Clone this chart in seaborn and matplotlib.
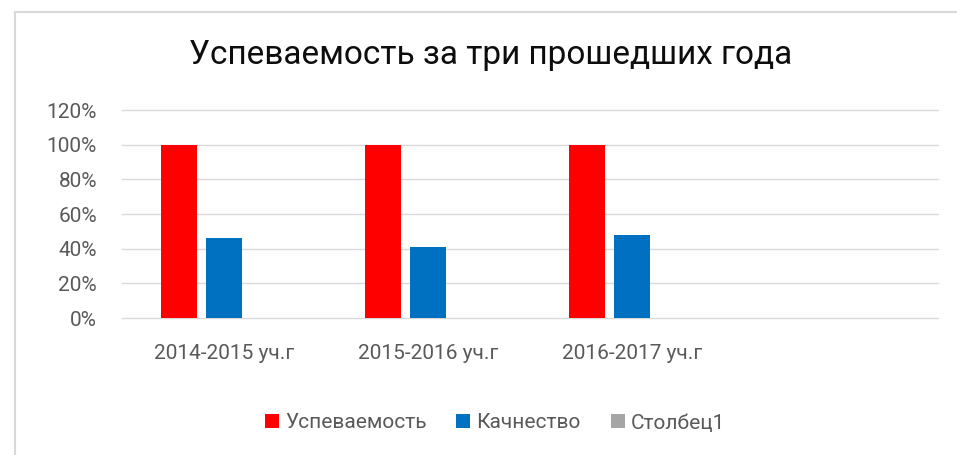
import pandas as pd
import matplotlib
matplotlib.use("Agg")
from matplotlib import pyplot as plt
from matplotlib.patches import Patch
from matplotlib.lines import Line2D
from matplotlib.ticker import PercentFormatter
import seaborn as sns

# chart data
years = ["2014-2015 уч.г", "2015-2016 уч.г", "2016-2017 уч.г"]
slots = years + [" "]  # fourth empty category on the axis
series = ["Успеваемость", "Качнество", "Столбец1"]
uspev = [1.00, 1.00, 1.00]
kach = [0.46, 0.41, 0.48]
stolb = [0.0, 0.0, 0.0]
colors = ["#ff0000", "#0070c0", "#a5a5a5"]
yticks = [0, 0.2, 0.4, 0.6, 0.8, 1.0, 1.2]

df = pd.DataFrame({
    "year": years * 3,
    "series": [s for s in series for _ in years],
    "value": uspev + kach + stolb,
})

sns.set_style("white")
plt.rcParams['font.family'] = ['Roboto', 'DejaVu Sans']

W, H = 957, 455
fig = plt.figure(figsize=(W / 100, H / 100), dpi=100)
ax = fig.add_axes([122 / W, 1 - 318 / H, (938 - 122) / W, (318 - 110) / H])

sns.barplot(data=df, x="year", y="value", hue="series", order=slots,
            hue_order=series, palette=colors, width=0.662, gap=0.22,
            saturation=1, linewidth=0, legend=False, ax=ax)

ax.set_xlim(-0.5, len(slots) - 0.5)
ax.set_ylim(0, 1.2)
ax.set_yticks(yticks)
ax.yaxis.set_major_formatter(PercentFormatter(1.0, decimals=0))
ax.grid(axis="y", color="#d9d9d9", lw=1.0)
ax.set_axisbelow(True)
for gl in ax.get_ygridlines():
    gl.set_clip_on(False)
for s in ax.spines.values():
    s.set_visible(False)
ax.set_xlabel("")
ax.set_ylabel("")
ax.tick_params(axis="y", length=0, pad=18, labelsize=15, labelcolor="#595959")
ax.tick_params(axis="x", length=0, pad=19, labelsize=15, labelcolor="#595959")

fig.text(491 / W, 1 - 55 / H, "Успеваемость за три прошедших года",
         ha="center", va="center", fontsize=24, color="#0d0d0d")

handles = [Patch(facecolor=c, edgecolor="none") for c in colors]
fig.legend(handles, series, loc="center", bbox_to_anchor=(495 / W, 1 - 423 / H),
           ncol=3, frameon=False, fontsize=15, labelcolor="#595959",
           handlelength=0.67, handleheight=0.67, handletextpad=0.29,
           columnspacing=1.44, borderpad=0)

# chart frame (left and top edges visible)
fig.add_artist(Line2D([15 / W, 15 / W], [0, 1 - 12 / H], color="#d9d9d9", lw=1.5,
                      transform=fig.transFigure))
fig.add_artist(Line2D([15 / W, 1], [1 - 12 / H, 1 - 12 / H], color="#d9d9d9", lw=1.5,
                      transform=fig.transFigure))

fig.savefig("out.png", dpi=100, facecolor="white")
